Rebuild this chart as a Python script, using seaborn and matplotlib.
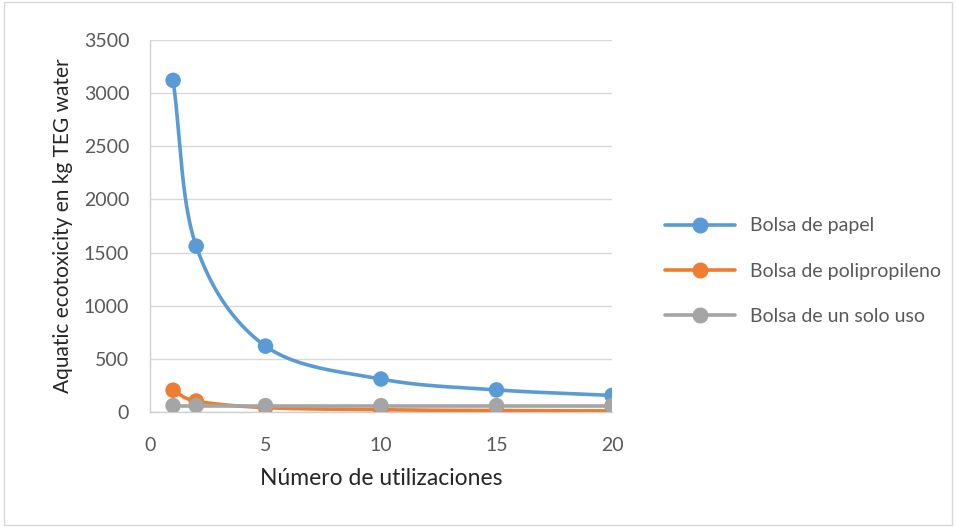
import numpy as np
import pandas as pd
import seaborn as sns
import matplotlib
matplotlib.use("Agg")
import matplotlib.pyplot as plt
from matplotlib.lines import Line2D

usos = [1, 2, 5, 10, 15, 20]
papel = [3120, 1560, 620, 310, 208, 156]
polipropileno = [205, 103, 41, 21, 14, 10]
un_solo_uso = [60, 60, 60, 60, 60, 60]

series = {
    "Bolsa de papel": papel,
    "Bolsa de polipropileno": polipropileno,
    "Bolsa de un solo uso": un_solo_uso,
}
colors = ["#5B9BD5", "#ED7D31", "#A5A5A5"]


def catmull_rom(x, y, n=40):
    x = np.asarray(x, float)
    y = np.asarray(y, float)
    px = np.concatenate([[2 * x[0] - x[1]], x, [2 * x[-1] - x[-2]]])
    py = np.concatenate([[2 * y[0] - y[1]], y, [2 * y[-1] - y[-2]]])
    xs, ys = [], []
    for i in range(1, len(px) - 2):
        t = np.linspace(0, 1, n, endpoint=(i == len(px) - 3))
        for arr, out in ((px, xs), (py, ys)):
            p0, p1, p2, p3 = arr[i - 1], arr[i], arr[i + 1], arr[i + 2]
            out.extend(0.5 * ((2 * p1) + (-p0 + p2) * t
                              + (2 * p0 - 5 * p1 + 4 * p2 - p3) * t ** 2
                              + (-p0 + 3 * p1 - 3 * p2 + p3) * t ** 3))
    return np.array(xs), np.array(ys)


sns.set_theme(style="white")
plt.rcParams["font.family"] = ["Lato", "DejaVu Sans"]
txt = "#595959"
title_c = "#262626"

fig = plt.figure(figsize=(9.56, 5.27), dpi=100)
ax = fig.add_axes([150 / 956, 1 - 412 / 527, (612 - 150) / 956, (412 - 40) / 527])

for (name, vals), c in zip(series.items(), colors):
    sx, sy = catmull_rom(usos, vals)
    sns.lineplot(x=sx, y=sy, ax=ax, color=c, lw=2.6, sort=False, zorder=3)
    sns.scatterplot(x=usos, y=vals, ax=ax, color=c, s=125, edgecolor="none", zorder=4)

ax.set_xlim(0, 20)
ax.set_ylim(0, 3500)
ax.set_xticks([0, 5, 10, 15, 20])
ax.set_yticks(np.arange(0, 3501, 500))
ax.yaxis.grid(True, color="#d9d9d9", lw=1)
ax.xaxis.grid(False)
for s in ["top", "right"]:
    ax.spines[s].set_visible(False)
for s in ["left", "bottom"]:
    ax.spines[s].set_color("#d0d0d0")
    ax.spines[s].set_linewidth(1)
ax.tick_params(axis="y", colors=txt, labelsize=14, length=0, pad=15)
ax.tick_params(axis="x", colors=txt, labelsize=14, length=0, pad=18)
ax.set_xlabel("Número de utilizaciones", color=title_c, fontsize=16.5, labelpad=10)
ax.set_ylabel("Aquatic ecotoxicity en kg TEG water", color=title_c, fontsize=15, labelpad=8)

handles = [Line2D([0], [0], color=c, lw=2.6, marker="o", markersize=10.5) for c in colors]
fig.legend(handles, list(series.keys()), loc="center left",
           bbox_to_anchor=(665 / 956, 1 - 271 / 527), frameon=False,
           fontsize=14, labelcolor=txt, handlelength=3.6, handletextpad=0.75,
           labelspacing=1.45, borderaxespad=0, borderpad=0)

fig.patches.append(matplotlib.patches.Rectangle((0.004, 0.004), 0.992, 0.992,
                   transform=fig.transFigure, fill=False, ec="#d9d9d9", lw=1))
fig.savefig("out.png", dpi=100)
